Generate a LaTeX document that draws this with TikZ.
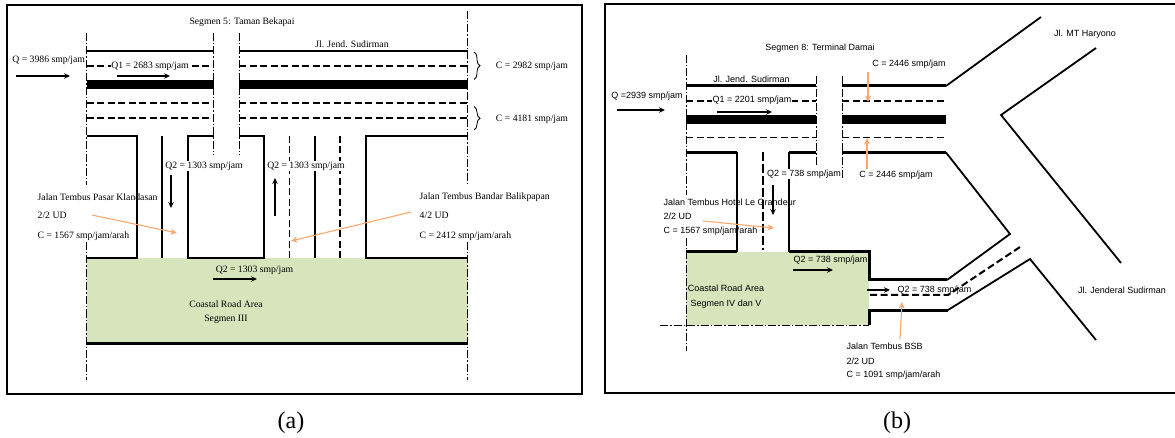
\documentclass[tikz,border=0pt]{standalone}
\usepackage{fontspec}
\setmainfont{Liberation Serif}
\newfontfamily\arialfont{Liberation Sans}
\usetikzlibrary{arrows.meta,decorations.pathreplacing}
\definecolor{roadgreen}{HTML}{D8E4BC}
\definecolor{callout}{HTML}{F9A86E}
\definecolor{inktext}{HTML}{000000}
\tikzset{
  x=1pt,y=-1pt,
  frameline/.style={line width=2pt,black},
  kerb/.style={line width=2.6pt,black,line cap=butt},
  kerbthin/.style={line width=1.8pt,black},
  median/.style={line width=9pt,black},
  lanedash/.style={line width=1.8pt,black,dash pattern=on 7pt off 3.5pt},
  axisline/.style={line width=0.9pt,black,dash pattern=on 8pt off 2pt on 1.5pt off 2pt},
  flow/.style={line width=1.3pt,black,-{Stealth[length=6pt,width=5.5pt]}},
  calloutarrow/.style={line width=1.1pt,callout,-{Stealth[length=6.5pt,width=6pt]}},
  ta/.style={font=\fontsize{9.7}{11}\selectfont,text=inktext,inner sep=0.5pt},
  tab/.style={ta,fill=white},
  tb/.style={font=\arialfont\fontsize{9}{10}\selectfont,text=inktext,inner sep=0.5pt},
  tbw/.style={tb,fill=white},
  captext/.style={font=\fontsize{24}{26}\selectfont,inner sep=0pt},
  bracebar/.style={line width=0.8pt,black,decorate,decoration={brace,amplitude=6pt}},
}
\begin{document}
\begin{tikzpicture}
\useasboundingbox (0,0) rectangle (1175,438);
%% ---------- panel (a) ----------
\draw[frameline] (7,5) rectangle (582,394);
\fill[roadgreen] (86.5,258) rectangle (468,343);
% axis lines
\draw[axisline] (86.5,33) -- (86.5,185);
\draw[axisline] (86.5,242) -- (86.5,380);
\draw[axisline] (467.7,11) -- (467.7,185);
\draw[axisline] (467.7,242) -- (467.7,380);
\draw[axisline] (213.5,33) -- (213.5,155);
\draw[axisline] (239,33) -- (239,155);
% carriageway
\draw[kerb] (86.5,51) -- (213.5,51);
\draw[kerb] (239,51) -- (467.7,51);
\draw[lanedash] (86.5,66) -- (213.5,66);
\draw[lanedash] (239,66) -- (467.7,66);
\draw[median] (86.5,85) -- (213.5,85);
\draw[median] (239,85) -- (467.7,85);
\draw[lanedash] (86.5,103) -- (213.5,103);
\draw[lanedash] (239,103) -- (467.7,103);
\draw[lanedash] (86.5,118) -- (213.5,118);
\draw[lanedash] (239,118) -- (467.7,118);
% side roads
\draw[kerb] (86.5,136) -- (137,136) -- (137,258) -- (86.5,258);
\draw[kerbthin] (162,136) -- (162,258);
\draw[kerb] (213.5,136) -- (188,136) -- (188,258) -- (264,258) -- (264,136) -- (239,136);
\draw[lanedash] (289.5,136) -- (289.5,258);
\draw[kerbthin] (315,136) -- (315,258);
\draw[lanedash] (340,136) -- (340,258);
\draw[kerb] (467.7,136) -- (366,136) -- (366,258) -- (467.7,258);
\draw[line width=3pt] (86.5,343) -- (467.7,343);
% labels
\node[ta] (a1) at (242,22) {Segmen 5: Taman Bekapai};
\node[ta] (a2) at (352,44) {Jl. Jend. Sudirman};
\node[ta] (a3) at (48.7,60) {Q = 3986 smp/jam};
\node[tab] (a4) at (150,66) {Q1 = 2683 smp/jam};
\node[ta] (a5) at (532,66) {C = 2982 smp/jam};
\node[ta] (a6) at (532,119.5) {C = 4181 smp/jam};
\node[tab] (a7) at (204,166) {Q2 = 1303 smp/jam};
\node[tab] (a8) at (306,166) {Q2 = 1303 smp/jam};
\node[ta,anchor=west] (a9) at (37,197) {Jalan Tembus Pasar Klandasan};
\node[ta,anchor=west] (a10) at (37,215) {2/2 UD};
\node[ta,anchor=west] (a11) at (37,236) {C = 1567 smp/jam/arah};
\node[ta,anchor=west] (a12) at (419,197) {Jalan Tembus Bandar Balikpapan};
\node[ta,anchor=west] (a13) at (419,215) {4/2 UD};
\node[ta,anchor=west] (a14) at (419,236) {C = 2412 smp/jam/arah};
\node[ta] (a15) at (254.5,270) {Q2 = 1303 smp/jam};
\node[ta] (a16) at (226,304) {Coastal Road Area};
\node[ta] (a17) at (226,319.5) {Segmen III};
\node[captext] (a18) at (291,423) {(a)};
% flows
\coordinate (af1s) at (16,76); \coordinate (af1e) at (70,76);
\coordinate (af2s) at (117,76); \coordinate (af2e) at (170,76);
\coordinate (af3s) at (171,175); \coordinate (af3e) at (171,208);
\coordinate (af4s) at (275,216); \coordinate (af4e) at (275,178);
\coordinate (af5s) at (213,279); \coordinate (af5e) at (257,279);
\draw[flow] (af1s) -- (af1e);
\draw[flow] (af2s) -- (af2e);
\draw[flow] (af3s) -- (af3e);
\draw[flow] (af4s) -- (af4e);
\draw[flow] (af5s) -- (af5e);
\coordinate (ac1s) at (92,215); \coordinate (ac1e) at (177,233);
\coordinate (ac2s) at (411,212); \coordinate (ac2e) at (291,241);
\draw[calloutarrow] (ac1s) -- (ac1e);
\draw[calloutarrow] (ac2s) -- (ac2e);
% braces
\coordinate (ab1s) at (474,52); \coordinate (ab1e) at (474,79.5);
\coordinate (ab2s) at (474,106.5); \coordinate (ab2e) at (474,130);
\draw[bracebar] (ab1s) -- (ab1e);
\draw[bracebar] (ab2s) -- (ab2e);
%% ---------- panel (b) ----------
\draw[frameline] (1175,4) -- (605,4) -- (605,393) -- (1175,393);
\fill[roadgreen] (686,252) rectangle (869,325);
\draw[axisline] (686,55) -- (686,195);
\draw[axisline] (686,238) -- (686,351);
\draw[axisline] (660,325) -- (869,325);
\draw[axisline] (816,76) -- (816,165);
\draw[axisline] (842,76) -- (842,180);
\draw[line width=3pt] (686,86) -- (816,86);
\draw[line width=3pt] (842,86) -- (946,86);
\draw[lanedash] (686,101) -- (816,101);
\draw[lanedash] (842,101) -- (946,101);
\draw[median] (686,120) -- (816,120);
\draw[median] (842,120) -- (946,120);
\draw[lanedash] (686,137.5) -- (816,137.5);
\draw[lanedash] (842,137.5) -- (946,137.5);
\draw[line width=3pt] (842,152.5) -- (946,152.5);
\draw[line width=3pt] (686,152.5) -- (737,152.5);
\draw[line width=3pt] (816,152.5) -- (789,152.5);
\draw[line width=2.4pt] (737,152.5) -- (737,252);
\draw[line width=2.4pt,dash pattern=on 9pt off 3pt] (763,152) -- (763,250);
\draw[line width=2.4pt] (789,152.5) -- (789,252);
\draw[line width=3pt] (686,252) -- (737,252);
\draw[line width=3pt,line join=miter] (789,252) -- (869,252) -- (869,280) -- (947,280);
\draw[line width=3pt,line join=miter] (869,325) -- (869,310) -- (948,310);
\draw[line width=1.8pt] (947,280) -- (1010,234) -- (946,152.5);
\draw[line width=1.8pt] (948,310) -- (1030,259) -- (1096,340);
\draw[line width=1.8pt] (946,86) -- (1041,17);
\draw[line width=1.8pt] (1096,48) -- (1001,115) -- (1121,263);
\draw[lanedash,line width=2pt] (870,295) -- (948,295) -- (1020,247);
% labels
\node[tb] (b1) at (820,48) {Segmen 8: Terminal Damai};
\node[tb] (b2) at (909,64) {C = 2446 smp/jam};
\node[tb] (b3) at (751.5,79) {Jl. Jend. Sudirman};
\node[tb] (b4) at (647,96) {Q =2939 smp/jam};
\node[tbw] (b5) at (752,100) {Q1 = 2201 smp/jam};
\node[tb] (b6) at (896,175) {C = 2446 smp/jam};
\node[tbw] (b7) at (804,174) {Q2 = 738 smp/jam};
\node[tb,anchor=west] (b8) at (663,202) {Jalan Tembus Hotel Le Grandeur};
\node[tb,anchor=west] (b9) at (663,216) {2/2 UD};
\node[tb,anchor=west] (b10) at (663,231) {C = 1567 smp/jam/arah};
\node[tb] (b11) at (830.5,260) {Q2 = 738 smp/jam};
\node[tb] (b12) at (726,288) {Coastal Road Area};
\node[tb] (b13) at (726,304) {Segmen IV dan V};
\node[tb] (b14) at (934.5,290) {Q2 = 738 smp/jam};
\node[tb,anchor=west] (b15) at (846,346) {Jalan Tembus BSB};
\node[tb,anchor=west] (b16) at (846,361) {2/2 UD};
\node[tb,anchor=west] (b17) at (846,375) {C = 1091 smp/jam/arah};
\node[tb] (b18) at (1085,34) {Jl. MT Haryono};
\node[tb] (b19) at (1122,290) {Jl. Jenderal Sudirman};
\node[captext] (b20) at (897,423) {(b)};
% flows
\coordinate (bf1s) at (617,110); \coordinate (bf1e) at (665,110);
\coordinate (bf2s) at (717,112); \coordinate (bf2e) at (772,112);
\coordinate (bf3s) at (773,185); \coordinate (bf3e) at (773,215);
\coordinate (bf4s) at (793,270); \coordinate (bf4e) at (833,270);
\coordinate (bf5s) at (867,290); \coordinate (bf5e) at (890,290);
\draw[flow] (bf1s) -- (bf1e);
\draw[flow] (bf2s) -- (bf2e);
\draw[flow] (bf3s) -- (bf3e);
\draw[flow] (bf4s) -- (bf4e);
\draw[flow] (bf5s) -- (bf5e);
\coordinate (bc1s) at (868,72); \coordinate (bc1e) at (868,102);
\coordinate (bc2s) at (867,169); \coordinate (bc2e) at (867,138);
\coordinate (bc3s) at (703,221); \coordinate (bc3e) at (774,228);
\coordinate (bc4s) at (900,339); \coordinate (bc4e) at (902,302);
\draw[calloutarrow] (bc1s) -- (bc1e);
\draw[calloutarrow] (bc2s) -- (bc2e);
\draw[calloutarrow] (bc3s) -- (bc3e);
\draw[calloutarrow] (bc4s) -- (bc4e);
\end{tikzpicture}
\end{document}
